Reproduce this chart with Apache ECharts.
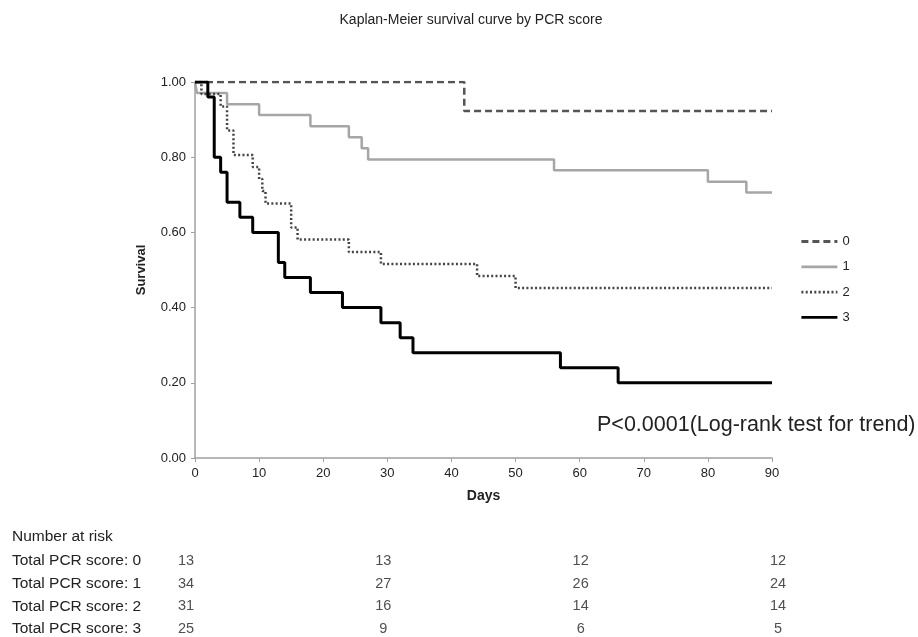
<!DOCTYPE html>
<html>
<head>
<meta charset="utf-8">
<script src="https://cdn.jsdelivr.net/npm/echarts@6/dist/echarts.min.js"></script>
<style>
html,body{margin:0;padding:0;background:#fff;}
#chart{width:918px;height:637px;}
</style>
</head>
<body>
<div id="chart"></div>
<script>
// ---- data ----
const seriesNames = ['0', '1', '2', '3'];
const days0 = [0, 42, 90];
const surv0 = [1.0, 0.923, 0.923];
const days1 = [0, 0.3, 5, 10, 18, 24, 26, 27, 56, 80, 86, 90];
const surv1 = [1.0, 0.971, 0.941, 0.912, 0.882, 0.853, 0.824, 0.794, 0.765, 0.735, 0.706, 0.706];
const days2 = [0, 1, 4, 5, 6, 9, 10, 10.5, 11, 15, 16, 24, 29, 44, 50, 90];
const surv2 = [1.0, 0.968, 0.935, 0.871, 0.806, 0.774, 0.742, 0.710, 0.677, 0.613, 0.581, 0.548, 0.516, 0.484, 0.452, 0.452];
const days3 = [0, 2, 3, 4, 5, 7, 9, 13, 14, 18, 23, 29, 32, 34, 57, 66, 90];
const surv3 = [1.0, 0.96, 0.80, 0.76, 0.68, 0.64, 0.60, 0.52, 0.48, 0.44, 0.40, 0.36, 0.32, 0.28, 0.24, 0.20, 0.20];

const riskDays = [0, 30, 60, 90];
const riskLabels = ['Total PCR score: 0', 'Total PCR score: 1', 'Total PCR score: 2', 'Total PCR score: 3'];
const risk0 = [13, 13, 12, 12];
const risk1 = [34, 27, 26, 24];
const risk2 = [31, 16, 14, 14];
const risk3 = [25, 9, 6, 5];

const titleText = 'Kaplan-Meier survival curve by PCR score';
const pText = 'P<0.0001(Log-rank test for trend)';

// ---- build ----
const FONT = 'Liberation Sans, Arial, sans-serif';
function zip(a, b) { return a.map((v, i) => [v, b[i]]); }
const curves = [zip(days0, surv0), zip(days1, surv1), zip(days2, surv2), zip(days3, surv3)];
const styles = [
  { color: '#555555', width: 2.5, type: [7, 4] },
  { color: '#a6a6a6', width: 2.5, type: 'solid' },
  { color: '#444444', width: 2.5, type: [2, 2.3] },
  { color: '#000000', width: 3, type: 'solid' }
];
const riskRows = [risk0, risk1, risk2, risk3];
const riskData = [];
riskRows.forEach((row, r) => row.forEach((n, c) => riskData.push([riskDays[c], r, n])));

const chart = echarts.init(document.getElementById('chart'), null, { renderer: 'canvas' });
const option = {
  animation: false,
  backgroundColor: '#ffffff',
  textStyle: { fontFamily: FONT },
  title: {
    text: titleText, left: 466, top: 8, textAlign: 'center',
    textStyle: { fontFamily: FONT, fontSize: 14, fontWeight: 'normal', color: '#222' }
  },
  legend: {
    data: seriesNames,
    orient: 'vertical', left: 795, top: 230,
    itemWidth: 36, itemHeight: 10, itemGap: 12.3,
    itemStyle: { opacity: 0 },
    lineStyle: { width: 2.8 },
    textStyle: { fontFamily: FONT, fontSize: 13, color: '#222' }
  },
  grid: [
    { left: 195, right: 146, top: 82, bottom: 179 },
    { left: 186, width: 592, top: 561, height: 69 }
  ],
  xAxis: [
    {
      type: 'value', gridIndex: 0, min: 0, max: 90, interval: 10,
      name: 'Days', nameLocation: 'middle', nameGap: 31,
      nameTextStyle: { fontFamily: FONT, fontSize: 14, fontWeight: 'bold', color: '#222' },
      axisLine: { show: true, lineStyle: { color: '#a0a0a0', width: 1.5 } },
      axisTick: { show: true, length: 4, lineStyle: { color: '#a0a0a0' } },
      axisLabel: { fontFamily: FONT, fontSize: 13, color: '#222', margin: 9 },
      splitLine: { show: false }
    },
    { type: 'value', gridIndex: 1, min: 0, max: 90, show: false }
  ],
  yAxis: [
    {
      type: 'value', gridIndex: 0, min: 0, max: 1, interval: 0.2,
      name: 'Survival', nameLocation: 'middle', nameGap: 47,
      nameTextStyle: { fontFamily: FONT, fontSize: 13, fontWeight: 'bold', color: '#222' },
      axisLine: { show: true, lineStyle: { color: '#a0a0a0', width: 1.5 } },
      axisTick: { show: true, length: 4, lineStyle: { color: '#a0a0a0' } },
      axisLabel: { fontFamily: FONT, fontSize: 13, color: '#222', margin: 9, formatter: v => v.toFixed(2) },
      splitLine: { show: false }
    },
    {
      type: 'value', gridIndex: 1, min: 0, max: 3, interval: 1, inverse: true,
      axisLine: { show: false }, axisTick: { show: false }, splitLine: { show: false },
      axisLabel: {
        align: 'left', margin: 174, fontFamily: FONT, fontSize: 15.5, color: '#222',
        formatter: v => riskLabels[v] || ''
      }
    }
  ],
  series: curves.map((d, i) => ({
    name: seriesNames[i], type: 'line', step: 'end', data: d,
    xAxisIndex: 0, yAxisIndex: 0,
    showSymbol: false, symbol: 'none',
    lineStyle: { color: styles[i].color, width: styles[i].width, type: styles[i].type, cap: 'butt' },
    itemStyle: { color: styles[i].color },
    z: 2 + i
  })).concat([{
    name: 'risk', type: 'scatter', xAxisIndex: 1, yAxisIndex: 1,
    data: riskData,
    symbolSize: 0,
    label: {
      show: true, position: 'inside', formatter: p => String(p.value[2]),
      fontFamily: FONT, fontSize: 14.5, color: '#222'
    }
  }]),
  graphic: [
    {
      type: 'text', left: 12, top: 529,
      style: { text: 'Number at risk', font: '15.5px ' + FONT, fill: '#222' }
    },
    {
      type: 'text', left: 597, top: 414,
      style: { text: pText, font: '21.5px ' + FONT, fill: '#222' }
    }
  ]
};
chart.setOption(option);
</script>
</body>
</html>
